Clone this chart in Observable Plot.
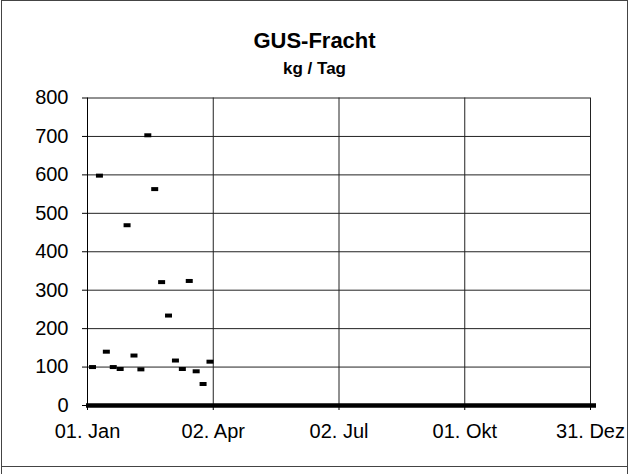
<!DOCTYPE html>
<html>
<head>
<meta charset="utf-8">
<script src="https://cdn.jsdelivr.net/npm/d3@7"></script>
<script src="https://cdn.jsdelivr.net/npm/@observablehq/plot@0.6"></script>
<style>
  html, body { margin: 0; padding: 0; background: #fff; }
  body { width: 629px; height: 474px; position: relative; overflow: hidden; font-family: "Liberation Sans", Arial, sans-serif; }
  #frame { position: absolute; left: 1px; top: 0px; width: 625px; height: 465px; border: 1px solid #444; }
  #strip { position: absolute; left: 1px; top: 467px; width: 625px; height: 8px; border-left: 1px solid #444; border-right: 1px solid #444; }
  #title { position: absolute; left: 0; width: 629px; top: 30px; text-align: center; font-weight: bold; font-size: 22px; line-height: 22px; color: #000; }
  #subtitle { position: absolute; left: 0; width: 629px; top: 60px; text-align: center; font-weight: bold; font-size: 17px; line-height: 17px; color: #000; }
  #chart { position: absolute; left: 0; top: 80px; }
</style>
</head>
<body>
<div id="frame"></div>
<div id="strip"></div>
<div id="title">GUS-Fracht</div>
<div id="subtitle">kg / Tag</div>
<div id="chart"></div>
<script>
// Data
const dates = [
  "2001-01-05", "2001-01-10", "2001-01-15", "2001-01-20", "2001-01-25", "2001-01-30",
  "2001-02-04", "2001-02-09", "2001-02-14", "2001-02-19", "2001-02-24",
  "2001-03-01", "2001-03-06", "2001-03-11", "2001-03-16", "2001-03-21", "2001-03-26", "2001-03-31"
];
const values = [100, 598, 140, 100, 95, 469, 130, 94, 703, 563, 321, 234, 117, 95, 324, 89, 56, 114];

const yTicks = [0, 100, 200, 300, 400, 500, 600, 700, 800];
const xTickDates = ["2001-01-01", "2001-04-02", "2001-07-02", "2001-10-01", "2001-12-31"];
const xTickLabels = ["01. Jan", "02. Apr", "02. Jul", "01. Okt", "31. Dez"];

const data = dates.map((d, i) => ({date: new Date(d), value: values[i]}));
const xTicks = xTickDates.map(d => new Date(d));
const xStart = xTicks[0], xEnd = xTicks[xTicks.length - 1];

const chart = Plot.plot({
  width: 629,
  height: 365,
  marginLeft: 87,
  marginRight: 39,
  marginTop: 17.5,
  marginBottom: 40,
  style: {fontFamily: "'Liberation Sans', Arial, sans-serif", fontSize: "20px", color: "#000", background: "transparent", overflow: "visible"},
  x: {type: "utc", domain: [xStart, xEnd]},
  y: {domain: [0, 800]},
  marks: [
    Plot.gridY(yTicks.filter(t => t > 0), {stroke: "#222", strokeOpacity: 1, strokeWidth: 1}),
    Plot.gridX(xTicks.slice(1), {stroke: "#222", strokeOpacity: 1, strokeWidth: 1}),
    Plot.ruleX([xStart], {y1: 0, y2: 800, stroke: "#000", strokeWidth: 1}),
    Plot.axisY(yTicks, {tickSize: 5, tickPadding: 14, label: null, fontSize: 20, stroke: "#000"}),
    Plot.axisX(xTicks, {tickSize: 5, tickPadding: 13, label: null, fontSize: 20, stroke: "#000",
      tickFormat: d => xTickLabels[xTicks.findIndex(t => +t === +d)]}),
    Plot.ruleY([0], {stroke: "#000", strokeWidth: 4.5, insetLeft: -1, insetRight: -6}),
    Plot.ruleY(data, {x1: "date", x2: "date", y: "value", stroke: "#000", strokeWidth: 4,
      strokeLinecap: "butt", insetLeft: -3.5, insetRight: -3.5})
  ]
});
document.getElementById("chart").appendChild(chart);
</script>
</body>
</html>
